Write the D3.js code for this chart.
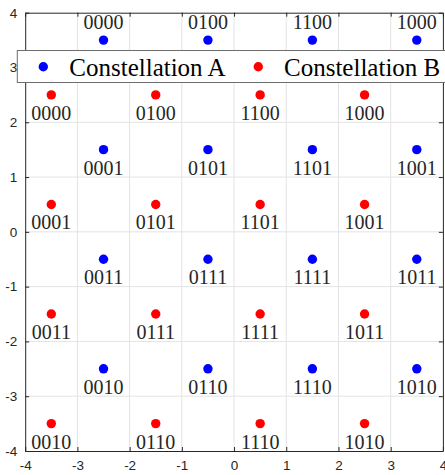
<!DOCTYPE html>
<html>
<head>
<meta charset="utf-8">
<script src="https://cdn.jsdelivr.net/npm/d3@7"></script>
<style>
html,body{margin:0;padding:0;background:#fff;}
svg{display:block;}
</style>
</head>
<body>
<svg id="chart" width="445" height="475"></svg>
<script>
// ---- data ----
const seriesNames = ["Constellation A", "Constellation B"];
const aX = [-2.5,-0.5,1.5,3.5, -2.5,-0.5,1.5,3.5, -2.5,-0.5,1.5,3.5, -2.5,-0.5,1.5,3.5];
const aY = [3.5,3.5,3.5,3.5, 1.5,1.5,1.5,1.5, -0.5,-0.5,-0.5,-0.5, -2.5,-2.5,-2.5,-2.5];
const aLabels = ["0000","0100","1100","1000", "0001","0101","1101","1001", "0011","0111","1111","1011", "0010","0110","1110","1010"];
const bX = [-3.5,-1.5,0.5,2.5, -3.5,-1.5,0.5,2.5, -3.5,-1.5,0.5,2.5, -3.5,-1.5,0.5,2.5];
const bY = [2.5,2.5,2.5,2.5, 0.5,0.5,0.5,0.5, -1.5,-1.5,-1.5,-1.5, -3.5,-3.5,-3.5,-3.5];
const bLabels = ["0000","0100","1100","1000", "0001","0101","1101","1001", "0011","0111","1111","1011", "0010","0110","1110","1010"];
const xTicks = [-4,-3,-2,-1,0,1,2,3,4];
const yTicks = [-4,-3,-2,-1,0,1,2,3,4];

// ---- layout ----
const L = 25.2, R = 442.9, T = 12.7, B = 451;
const svg = d3.select("#chart");
const x = d3.scaleLinear().domain([-4,4]).range([L,R]);
const y = d3.scaleLinear().domain([-4,4]).range([B,T]);
const axisColor = "#262626";

// grid
const g = svg.append("g");
g.selectAll("line.vx").data(xTicks.slice(1,-1)).join("line")
  .attr("x1", d=>x(d)).attr("x2", d=>x(d)).attr("y1", T).attr("y2", B)
  .attr("stroke", "#e3e3e3").attr("stroke-width", 1);
g.selectAll("line.hy").data(yTicks.slice(1,-1)).join("line")
  .attr("x1", L).attr("x2", R).attr("y1", d=>y(d)).attr("y2", d=>y(d))
  .attr("stroke", "#e3e3e3").attr("stroke-width", 1);

// axes (inward ticks, box)
function styleAxis(sel){
  sel.select(".domain").attr("stroke", axisColor);
  sel.selectAll(".tick line").attr("stroke", axisColor);
  sel.selectAll(".tick text").attr("fill", axisColor)
    .style("font-family", "'Liberation Sans', Arial, sans-serif").style("font-size", "13.5px");
}
const xb = svg.append("g").attr("transform", `translate(0,${B})`)
  .call(d3.axisBottom(x).tickValues(xTicks).tickSizeInner(-4).tickSizeOuter(0).tickPadding(9).tickFormat(d3.format("d")));
styleAxis(xb);
const xt = svg.append("g").attr("transform", `translate(0,${T})`)
  .call(d3.axisTop(x).tickValues(xTicks).tickSizeInner(-4).tickSizeOuter(0).tickFormat(""));
styleAxis(xt);
const yl = svg.append("g").attr("transform", `translate(${L},0)`)
  .call(d3.axisLeft(y).tickValues(yTicks).tickSizeInner(-4).tickSizeOuter(0).tickPadding(8).tickFormat(d3.format("d")));
styleAxis(yl);
const yr = svg.append("g").attr("transform", `translate(${R},0)`)
  .call(d3.axisRight(y).tickValues(yTicks).tickSizeInner(-4).tickSizeOuter(0).tickFormat(""));
styleAxis(yr);
svg.selectAll(".tick text").text(function(){ return this.textContent.replace("\u2212","-"); });

// points
const ptsA = aX.map((v,i)=>({x:v, y:aY[i], label:aLabels[i]}));
const ptsB = bX.map((v,i)=>({x:v, y:bY[i], label:bLabels[i]}));
const labelFont = "'Liberation Serif', 'Times New Roman', serif";

svg.append("g").selectAll("circle").data(ptsA).join("circle")
  .attr("cx", d=>x(d.x)).attr("cy", d=>y(d.y)).attr("r", 4.7).attr("fill", "#0000ff");
svg.append("g").selectAll("circle").data(ptsB).join("circle")
  .attr("cx", d=>x(d.x)).attr("cy", d=>y(d.y)).attr("r", 4.7).attr("fill", "#ff0000");

svg.append("g").selectAll("text").data(ptsA).join("text")
  .attr("x", d=>x(d.x)).attr("y", d=> d.y > 3 ? y(d.y) - 11.5 : y(d.y) + 25)
  .attr("text-anchor", "middle").attr("fill", "#262626")
  .style("font-family", labelFont).style("font-size", "20px").text(d=>d.label);
svg.append("g").selectAll("text").data(ptsB).join("text")
  .attr("x", d=>x(d.x)).attr("y", d=> y(d.y) + 25)
  .attr("text-anchor", "middle").attr("fill", "#262626")
  .style("font-family", labelFont).style("font-size", "20px").text(d=>d.label);

// legend
const leg = svg.append("g");
leg.append("rect").attr("x", 17.3).attr("y", 50.5).attr("width", 440).attr("height", 32)
  .attr("fill", "#fff").attr("stroke", "#6e6e6e").attr("stroke-width", 1);
const legItems = [
  {name: seriesNames[0], color: "#0000ff", dx: 43.3, tx: 69.3},
  {name: seriesNames[1], color: "#ff0000", dx: 258.3, tx: 284}
];
legItems.forEach(it=>{
  leg.append("circle").attr("cx", it.dx).attr("cy", 66.7).attr("r", 4.7).attr("fill", it.color);
  leg.append("text").attr("x", it.tx).attr("y", 76).attr("fill", "#000")
    .style("font-family", labelFont).style("font-size", "25px").text(it.name);
});
</script>
</body>
</html>
